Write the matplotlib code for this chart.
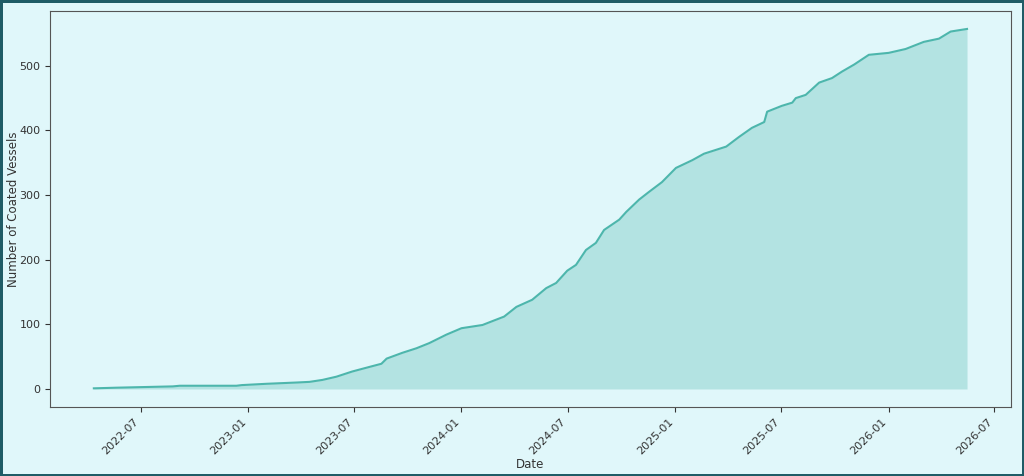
#!/usr/bin/env python3

import numpy as np
import pandas as pd
import matplotlib
matplotlib.use("Agg")
import matplotlib.pyplot as plt
import matplotlib.dates as mdates

# cumulative count of coated vessels
dates = [
    "2022-04-12", "2022-05-21", "2022-08-25", "2022-09-06", "2022-12-12",
    "2022-12-21", "2023-02-01", "2023-03-25", "2023-04-16", "2023-05-08",
    "2023-06-01", "2023-06-28", "2023-07-27", "2023-08-17", "2023-08-26",
    "2023-09-22", "2023-10-16", "2023-11-07", "2023-12-06", "2024-01-01",
    "2024-02-06", "2024-02-23", "2024-03-14", "2024-04-04", "2024-05-01",
    "2024-05-25", "2024-06-11", "2024-06-30", "2024-07-15", "2024-08-01",
    "2024-08-18", "2024-09-01", "2024-09-27", "2024-10-09", "2024-10-31",
    "2024-11-17", "2024-12-09", "2025-01-02", "2025-01-30", "2025-02-19",
    "2025-03-29", "2025-04-20", "2025-05-12", "2025-06-02", "2025-06-07",
    "2025-07-02", "2025-07-20", "2025-07-26", "2025-08-12", "2025-09-04",
    "2025-09-26", "2025-10-13", "2025-11-03", "2025-11-28", "2026-01-01",
    "2026-01-30", "2026-03-02", "2026-03-28", "2026-04-17", "2026-05-15",
]
vessels = [
    1, 2, 4, 5, 5,
    6, 8, 10, 11, 14,
    19, 27, 34, 39, 47,
    56, 63, 71, 84, 94,
    99, 105, 112, 127, 138,
    156, 164, 183, 192, 215,
    226, 246, 262, 274, 293,
    305, 320, 342, 354, 364,
    375, 390, 404, 413, 429,
    438, 443, 450, 455, 474,
    481, 491, 502, 517, 520,
    526, 537, 542, 553, 557,
]

x = pd.to_datetime(dates)
y = np.array(vessels)

bg = "#e0f7fa"
line_color = "#4db6ac"

fig = plt.figure(figsize=(10.24, 4.76), dpi=100)
fig.patch.set_facecolor(bg)
fig.patch.set_edgecolor("#1f5c66")
fig.patch.set_linewidth(2.5)
ax = fig.add_axes([0.049, 0.145, 0.938, 0.832])
ax.set_facecolor(bg)

ax.plot(x, y, color=line_color, linewidth=1.5)
ax.fill_between(x, y, color=line_color, alpha=0.3, linewidth=0)

ax.xaxis.set_major_locator(mdates.MonthLocator(bymonth=[1, 7]))
ax.xaxis.set_major_formatter(mdates.DateFormatter("%Y-%m"))
plt.setp(ax.get_xticklabels(), rotation=45, ha="right")

ax.tick_params(labelsize=8, colors="#333333")
for s in ax.spines.values():
    s.set_color("#555555")
ax.set_xlabel("Date", fontsize=8.5, color="#333333", labelpad=1)
ax.set_ylabel("Number of Coated Vessels", fontsize=8.5, color="#333333")
ax.yaxis.set_label_coords(-0.031, 0.5)

fig.savefig("out.png", dpi=100, facecolor=fig.get_facecolor(),
            edgecolor=fig.get_edgecolor())
